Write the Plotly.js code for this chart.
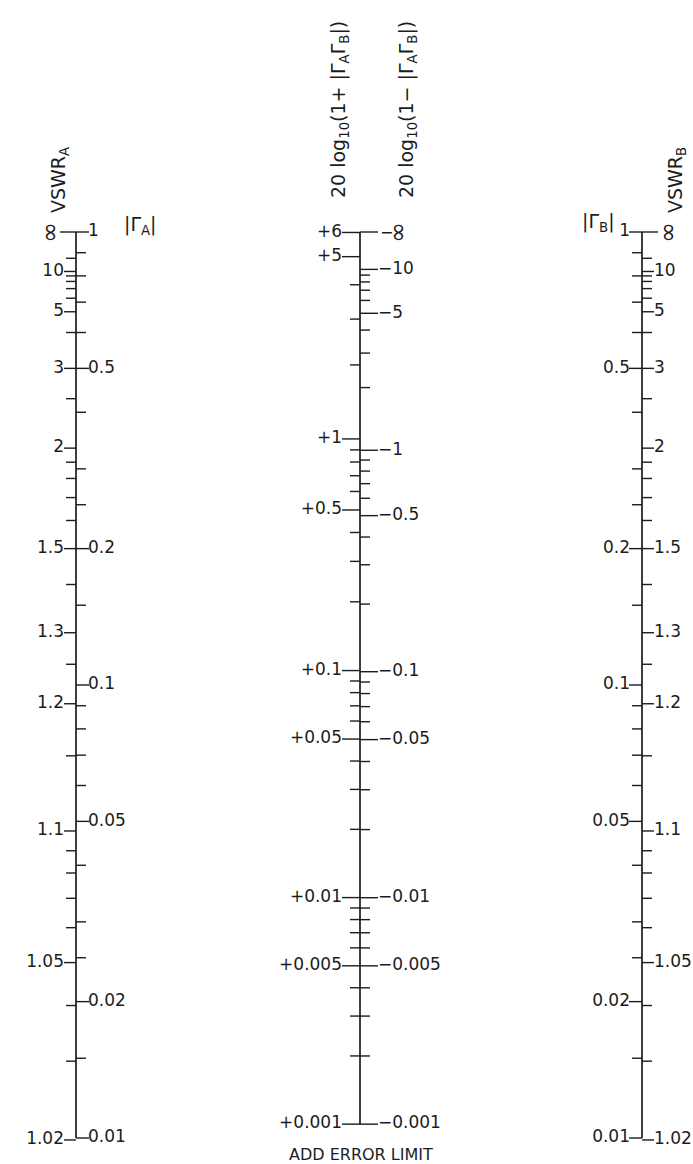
<!DOCTYPE html>
<html><head><meta charset="utf-8">
<script src="https://cdn.plot.ly/plotly-3.0.1.min.js"></script>
<style>html,body{margin:0;padding:0;background:#fff;}#chart{width:693px;height:1164px;}</style>
</head><body><div id="chart"></div>
<script>
// ---- |Γ| scales (outer scales A and B) ----
const gammaLabeled = [1, 0.5, 0.2, 0.1, 0.05, 0.02, 0.01];
const gammaLabelText = ["1", "0.5", "0.2", "0.1", "0.05", "0.02", "0.01"];
const gammaMinor = [0.9, 0.8, 0.7, 0.6, 0.4, 0.3, 0.25, 0.15, 0.09, 0.08, 0.07, 0.06, 0.04, 0.03, 0.025, 0.015];
// ---- VSWR scales ----
const vswrLabeled = [10, 5, 3, 2, 1.5, 1.3, 1.2, 1.1, 1.05, 1.02];
const vswrLabelText = ["10", "5", "3", "2", "1.5", "1.3", "1.2", "1.1", "1.05", "1.02"];
const vswrMinor = [15, 9, 8, 7, 6, 4, 2.5, 1.9, 1.8, 1.7, 1.6, 1.4, 1.25, 1.15, 1.09, 1.08, 1.07, 1.06, 1.04, 1.03];
// ---- middle scale, dB: 20log10(1+|ΓAΓB|) ----
const plusLabeled = [6, 5, 1, 0.5, 0.1, 0.05, 0.01, 0.005, 0.001];
const plusLabelText = ["+6", "+5", "+1", "+0.5", "+0.1", "+0.05", "+0.01", "+0.005", "+0.001"];
const plusMinor = [4, 3, 2, 0.9, 0.8, 0.7, 0.6, 0.4, 0.3, 0.2, 0.09, 0.08, 0.07, 0.06, 0.04, 0.03, 0.02,
                   0.009, 0.008, 0.007, 0.006, 0.004, 0.003, 0.002];
// ---- middle scale, dB: 20log10(1-|ΓAΓB|) ----
const minusLabeled = [10, 5, 1, 0.5, 0.1, 0.05, 0.01, 0.005, 0.001];
const minusLabelText = ["−10", "−5", "−1", "−0.5", "−0.1", "−0.05", "−0.01", "−0.005", "−0.001"];
const minusMinor = [9, 8, 7, 6, 4, 3, 2, 0.9, 0.8, 0.7, 0.6, 0.4, 0.3, 0.2, 0.09, 0.08, 0.07, 0.06, 0.04, 0.03, 0.02,
                    0.009, 0.008, 0.007, 0.006, 0.004, 0.003, 0.002];

// conversions (nomograph relations)
const vswrToGamma = s => (s - 1) / (s + 1);
const plusPos = d => Math.sqrt(Math.pow(10, d / 20) - 1);   // half-log scale of the product
const minusPos = d => Math.sqrt(1 - Math.pow(10, -d / 20));

// layout constants
const XA = 76, XM = 360, XB = 642;
const TOP = 212, BOT = 1158, H = 1164;
const pxDecade = 453;
const rTop = (232 - TOP) / pxDecade, rBot = -2 - (BOT - 1138) / pxDecade;
const py2paper = py => (BOT - py) / (BOT - TOP);

const INK = '#1c1c1c';
const FONT = 'DejaVu Sans';
const LBL = 17;

function segs(vals, x0, x1) {
  const x = [], y = [];
  vals.forEach(v => { x.push(x0, x1, null); y.push(v, v, null); });
  return {x, y};
}
function lineTrace(s, w) {
  return {type: 'scatter', mode: 'lines', x: s.x, y: s.y, line: {color: INK, width: w || 1.4},
          hoverinfo: 'skip', showlegend: false};
}
function textTrace(x, vals, txt, pos) {
  return {type: 'scatter', mode: 'text', x: vals.map(() => x), y: vals, text: txt,
          textposition: pos, textfont: {family: FONT, size: LBL, color: INK},
          cliponaxis: false, hoverinfo: 'skip', showlegend: false};
}

const gLab = gammaLabeled, gMin = gammaMinor;
const vLab = vswrLabeled.map(vswrToGamma), vMin = vswrMinor.map(vswrToGamma);
const pLab = plusLabeled.map(plusPos), pMin = plusMinor.map(plusPos);
const mLab = minusLabeled.map(minusPos), mMin = minusMinor.map(minusPos);
const midBottom = plusPos(plusLabeled[plusLabeled.length - 1]);

const traces = [];
// axis lines
traces.push(lineTrace({x: [XA, XA, null, XM, XM, null, XB, XB],
                       y: [1, 0.01, null, 1, midBottom, null, 1, 0.01]}, 1.7));
// Scale A: VSWR left, Γ right
traces.push(lineTrace(segs([1], XA - 16, XA)));
traces.push(lineTrace(segs(vLab, XA - 12, XA)));
traces.push(lineTrace(segs(vMin, XA - 10, XA)));
traces.push(lineTrace(segs(gLab, XA, XA + 13)));
traces.push(lineTrace(segs(gMin, XA, XA + 10)));
// Scale B: Γ left, VSWR right
traces.push(lineTrace(segs([1], XB, XB + 16)));
traces.push(lineTrace(segs(gLab, XB - 13, XB)));
traces.push(lineTrace(segs(gMin, XB - 10, XB)));
traces.push(lineTrace(segs(vLab, XB, XB + 12)));
traces.push(lineTrace(segs(vMin, XB, XB + 10)));
// Middle scale
traces.push(lineTrace(segs(pLab, XM - 18, XM)));
traces.push(lineTrace(segs(pMin, XM - 10, XM)));
traces.push(lineTrace(segs([1], XM, XM + 18)));
traces.push(lineTrace(segs(mLab, XM, XM + 18)));
traces.push(lineTrace(segs(mMin, XM, XM + 10)));

// tick labels
traces.push(textTrace(XA - 12, vLab, vswrLabelText, 'middle left'));
traces.push(textTrace(XA + 12, gLab, gammaLabelText, 'middle right'));
traces.push(textTrace(XB - 12, gLab, gammaLabelText, 'middle left'));
traces.push(textTrace(XB + 12, vLab, vswrLabelText, 'middle right'));
traces.push(textTrace(XM - 18, pLab, plusLabelText, 'middle left'));
traces.push(textTrace(XM + 18, mLab, minusLabelText, 'middle right'));

const f = s => ({family: FONT, size: s, color: INK});
const ann = (x, py, text, size, opts) => Object.assign({xref: 'x', yref: 'paper', x: x, y: py2paper(py), text: text,
  xanchor: 'center', yanchor: 'middle', showarrow: false, font: f(size)}, opts || {});
const annY = (x, text, size, opts) => Object.assign({xref: 'x', yref: 'y', x: x, y: Math.log10(gammaLabeled[0]), text: text,
  xanchor: 'center', yanchor: 'middle', showarrow: false, font: f(size)}, opts || {});

const annotations = [
  ann(59, 180, 'VSWR<sub>A</sub>', 19, {textangle: -90}),
  ann(140, 225, '|Γ<sub>A</sub>|', 19),
  ann(340, 110, '20 log<sub>10</sub>(1+ |Γ<sub>A</sub>Γ<sub>B</sub>|)', 19, {textangle: -90}),
  ann(408, 110, '20 log<sub>10</sub>(1− |Γ<sub>A</sub>Γ<sub>B</sub>|)', 19, {textangle: -90}),
  ann(598, 222, '|Γ<sub>B</sub>|', 19),
  ann(676, 180, 'VSWR<sub>B</sub>', 19, {textangle: -90}),
  annY(52, '∞', 25, {textangle: 90}),
  annY(670, '∞', 25, {textangle: 90}),
  annY(386, '−', 16),
  annY(400, '∞', 25, {textangle: 90}),
  ann(361, 1154, 'ADD ERROR LIMIT', 16)
];

const layout = {
  width: 693, height: H,
  margin: {l: 0, r: 0, t: TOP, b: H - BOT, pad: 0},
  paper_bgcolor: '#fff', plot_bgcolor: '#fff',
  showlegend: false,
  xaxis: {range: [0, 693], visible: false, fixedrange: true},
  yaxis: {type: 'log', range: [rBot, rTop], visible: false, fixedrange: true},
  annotations: annotations
};

Plotly.newPlot('chart', traces, layout, {displayModeBar: false, staticPlot: true});
</script>
</body></html>
